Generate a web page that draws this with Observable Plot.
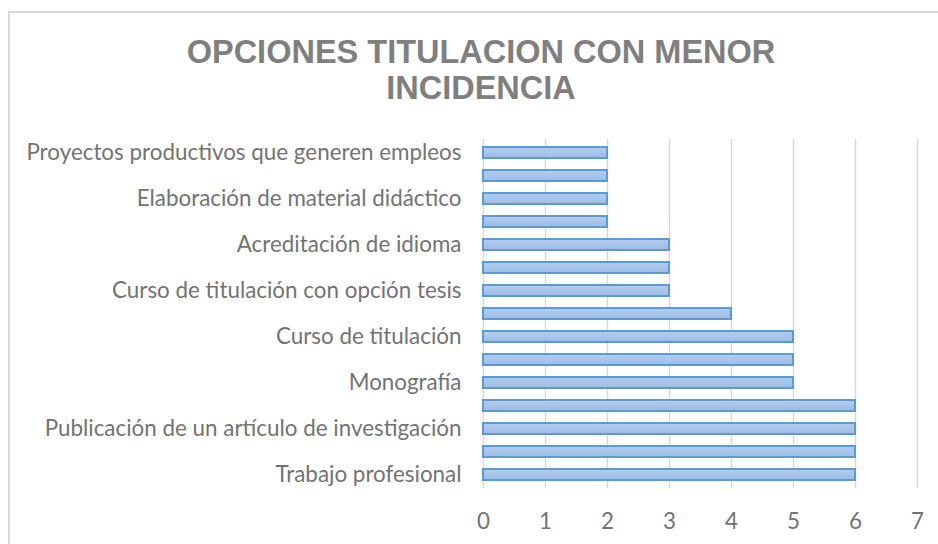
<!DOCTYPE html>
<html><head><meta charset="utf-8">
<script src="https://cdn.jsdelivr.net/npm/d3@7"></script>
<script src="https://cdn.jsdelivr.net/npm/@observablehq/plot@0.6"></script>
<style>
body{margin:0;background:#fff;}
#wrap{position:relative;width:938px;height:544px;overflow:hidden;background:#fff;}
#frame{position:absolute;left:8px;top:11px;width:960px;height:560px;border-left:2px solid #d9d9d9;border-top:2px solid #d9d9d9;}
#title{position:absolute;left:0;width:962px;top:34px;text-align:center;font-family:"Liberation Sans",Arial,sans-serif;font-weight:bold;font-size:32.5px;color:#7f7f7f;line-height:36px;white-space:nowrap;}
#chart{position:absolute;left:0;top:0;}
</style></head>
<body>
<div id="wrap">
<div id="frame"></div>
<div id="title">OPCIONES TITULACION CON MENOR<br>INCIDENCIA</div>
<div id="chart"></div>
</div>
<script>
// categories from top to bottom (unlabelled rows in the picture keep placeholder names)
const categories = [
  "Proyectos productivos que generen empleos",
  "(fila sin rótulo 1)",
  "Elaboración de material didáctico",
  "(fila sin rótulo 2)",
  "Acreditación de idioma",
  "(fila sin rótulo 3)",
  "Curso de titulación con opción tesis",
  "(fila sin rótulo 4)",
  "Curso de titulación",
  "(fila sin rótulo 5)",
  "Monografía",
  "(fila sin rótulo 6)",
  "Publicación de un artículo de investigación",
  "(fila sin rótulo 7)",
  "Trabajo profesional"
];
const values = [2, 2, 2, 2, 3, 3, 3, 4, 5, 5, 5, 6, 6, 6, 6];
const shownLabels = [
  "Proyectos productivos que generen empleos",
  "Elaboración de material didáctico",
  "Acreditación de idioma",
  "Curso de titulación con opción tesis",
  "Curso de titulación",
  "Monografía",
  "Publicación de un artículo de investigación",
  "Trabajo profesional"
];
const xTicks = [0, 1, 2, 3, 4, 5, 6, 7];

const data = categories.map((c, i) => ({cat: c, value: values[i]}));
const labelFont = "Lato, 'Open Sans', sans-serif";

const chart = Plot.plot({
  width: 938,
  height: 544,
  marginTop: 139,
  marginBottom: 56,
  marginLeft: 483,
  marginRight: 21,
  style: {background: "transparent", fontFamily: labelFont},
  x: {domain: [0, 7]},
  y: {domain: categories, paddingInner: 0.52, paddingOuter: 0.26},
  marks: [
    Plot.gridX(xTicks, {stroke: "#d9d9d9", strokeOpacity: 1, strokeWidth: 1.5}),
    Plot.barX(data, {x: "value", y: "cat", fill: "url(#barGrad)", stroke: "#5b9bd5", strokeWidth: 2}),
    Plot.axisX({ticks: xTicks, tickSize: 0, tickPadding: 25, fontSize: 22.4, fill: "#737373", label: null,
      tickFormat: d => String(d)}),
    Plot.axisY({tickSize: 0, tickPadding: 22, fontSize: 22.4, fill: "#737373", label: null,
      tickFormat: d => shownLabels.includes(d) ? d : ""})
  ]
});
const defs = d3.select(chart).insert("defs", ":first-child");
const g = defs.append("linearGradient").attr("id", "barGrad").attr("x1", 0).attr("y1", 0).attr("x2", 0).attr("y2", 1);
g.append("stop").attr("offset", "0%").attr("stop-color", "#b4cdef");
g.append("stop").attr("offset", "100%").attr("stop-color", "#9dbce6");
document.getElementById("chart").appendChild(chart);
</script>
</body></html>
